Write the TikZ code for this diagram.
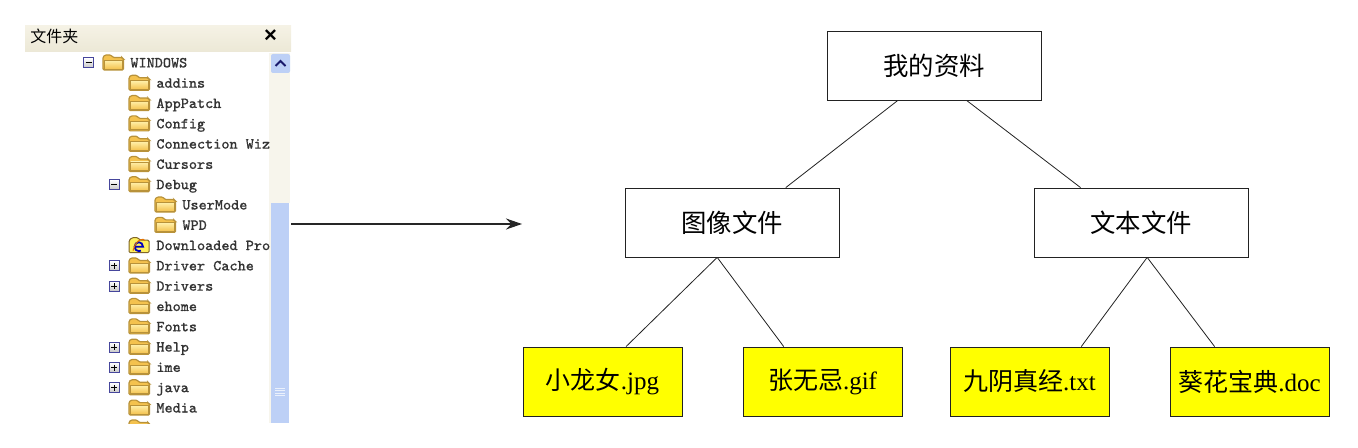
\documentclass[tikz,border=0pt]{standalone}
\usepackage{fontspec}
\setmainfont{Liberation Serif}
\newfontfamily\cjk{Noto Sans CJK SC}
\newfontfamily\treefont[FakeBold=0.6]{Latin Modern Mono}
\newfontfamily\closefont{Liberation Sans}
\usetikzlibrary{arrows.meta}
\definecolor{fldline}{HTML}{B8923A}
\definecolor{fldtop}{HTML}{FFEFA8}
\definecolor{fldbot}{HTML}{F4C24E}
\definecolor{thumbblue}{HTML}{BDD0F6}
\definecolor{trackcol}{HTML}{F7F5EC}
\definecolor{titletop}{HTML}{F5F2E5}
\definecolor{titlebot}{HTML}{ECE8D6}
\definecolor{leafyellow}{RGB}{255,255,0}
\definecolor{inkline}{HTML}{222222}
\tikzset{
  x=0.5pt,y=-0.5pt,
  topbox/.style={draw=inkline,line width=0.4pt,fill=white,inner sep=0pt,minimum width=107pt,minimum height=34.5pt,font=\fontsize{12.7}{15}\selectfont\cjk},
  leafbox/.style={draw=inkline,line width=0.4pt,fill=leafyellow,inner sep=0pt,minimum width=79.5pt,minimum height=34.5pt,font=\fontsize{12.5}{15}\selectfont},
  link/.style={draw=inkline,line width=0.4pt},
  treetext/.style={anchor=base west,inner sep=0pt,text=black!80,font=\fontsize{7.65}{9}\selectfont\treefont},
  panel/.style={fill=white,inner sep=0pt,minimum width=133pt,minimum height=198.5pt},
  folderic/.pic={
    \path[draw=fldline,line width=0.6pt,fill=fldbot,rounded corners=0.6pt]
      (-10,7) -- (-10,-6) -- (-8,-8) -- (-2,-8) -- (0,-5.5) -- (9,-5.5) -- (10.5,-4) -- (10.5,7) -- cycle;
    \path[top color=fldtop,bottom color=fldbot,draw=fldline,line width=0.4pt]
      (-8.5,-2.5) rectangle (9.5,6);
  },
  iefolder/.pic={
    \path[draw=fldline!70!black,line width=0.5pt,fill=yellow!45!fldtop,rounded corners=0.6pt]
      (-10,7) -- (-10,-5) -- (-7,-8) -- (-1,-8) -- (1,-5.5) -- (10,-5.5) -- (10,7) -- cycle;
    \draw[blue!75!black,line width=0.9pt] (-3.5,1) -- (4,1) arc (0:-300:4.2 and 4.5);
    \draw[orange!90!black,line width=0.5pt] (-6,5) .. controls (-3,-7) and (5,-8) .. (6,-5);
  },
  plusbox/.pic={
    \path[draw=black!25!blue!45!gray,line width=0.5pt,top color=white,bottom color=black!22] (-5,-5) rectangle (5,5);
    \draw[black,line width=0.5pt] (-3,0) -- (3,0) (0,-3) -- (0,3);
  },
  minusbox/.pic={
    \path[draw=black!25!blue!45!gray,line width=0.5pt,top color=white,bottom color=black!22] (-5,-5) rectangle (5,5);
    \draw[black,line width=0.5pt] (-3,0) -- (3,0);
  }
}
\begin{document}
\begin{tikzpicture}
\useasboundingbox (0,0) rectangle (1358,448);
% file panel
\node[panel] (explorer) at (158,224) {};
\path[top color=titletop,bottom color=titlebot] (25,26) rectangle (291,52);
\node[anchor=base west,inner sep=0pt,font=\fontsize{8}{10}\selectfont\cjk] (paneltitle) at (30,43) {文件夹};
\node[inner sep=0pt,font=\fontsize{11}{11}\selectfont\closefont\bfseries] (panelclose) at (270.5,36) {×};
% scrollbar
\fill[trackcol] (269,53) rectangle (290,423);
\fill[thumbblue] (271,203) rectangle (289,423);
\fill[white] (289,203) rectangle (291,423);
\fill[thumbblue,rounded corners=1pt] (271,54) rectangle (290,73);
\draw[black!60!blue!80!gray,line width=0.9pt] (275.5,66) -- (280.5,61) -- (285.5,66);
\foreach \g in {388,390.5,393,395.5}
  \draw[white!70!thumbblue,line width=0.4pt] (275,\g) -- (285,\g);
% tree rows
\foreach \i/\lx/\lbl in {0/130/WINDOWS,1/156/addins,2/156/AppPatch,3/156/Config,4/156/Connection Wiz,5/156/Cursors,6/156/Debug,7/182/UserMode,8/182/WPD,9/156/Downloaded Pro,10/156/Driver Cache,11/156/Drivers,12/156/ehome,13/156/Fonts,14/156/Help,15/156/ime,16/156/java,17/156/Media}{
  \pgfmathsetmacro{\ry}{63+20.3*\i}
  \pgfmathsetmacro{\rb}{\ry+4.4}
  \node[treetext] (row\i) at (\lx,\rb) {\lbl};
  \pgfmathsetmacro{\fx}{\lx-17}
  \ifnum\i=9
    \pic at (\fx,\ry) {iefolder};
  \else
    \pic at (\fx,\ry) {folderic};
  \fi
}
\foreach \i in {10,11,14,15,16}{
  \pgfmathsetmacro{\ry}{63+20.3*\i}
  \pic at (114,\ry) {plusbox};
}
\pic at (114,184.8) {minusbox};
\pic at (88.5,63) {minusbox};
% peek of the next folder
\begin{scope}
\clip (120,419) rectangle (160,423);
\pic at (139,428) {folderic};
\end{scope}
% hierarchy
\node[topbox] (root) at (934,65.5) {我的资料};
\node[topbox] (img) at (732,222.5) {图像文件};
\node[topbox] (txt) at (1141,222.5) {文本文件};
\node[leafbox] (l1) at (602.5,381.5) {{\cjk 小龙女}.jpg};
\node[leafbox] (l2) at (822.5,381.5) {{\cjk 张无忌}.gif};
\node[leafbox] (l3) at (1029.5,381.5) {{\cjk 九阴真经}.txt};
\node[leafbox] (l4) at (1249.5,381.5) {{\cjk 葵花宝典}.doc};
\draw[link] (root.-136.2) -- (img.33);
\draw[link] (root.-47.2) -- (txt.150.9);
\draw[link] (img.-113.5) -- (l1.56.9);
\draw[link] (img.-113.5) -- (l2.138.1);
\draw[link] (txt.-80.1) -- (l3.34.3);
\draw[link] (txt.-80.1) -- (l4.135);
\coordinate (arrowend) at (522,224);
\draw[black!85,line width=0.6pt,-{Stealth[length=8pt,width=5.5pt]}] (explorer.east) -- (arrowend);
\end{tikzpicture}
\end{document}
